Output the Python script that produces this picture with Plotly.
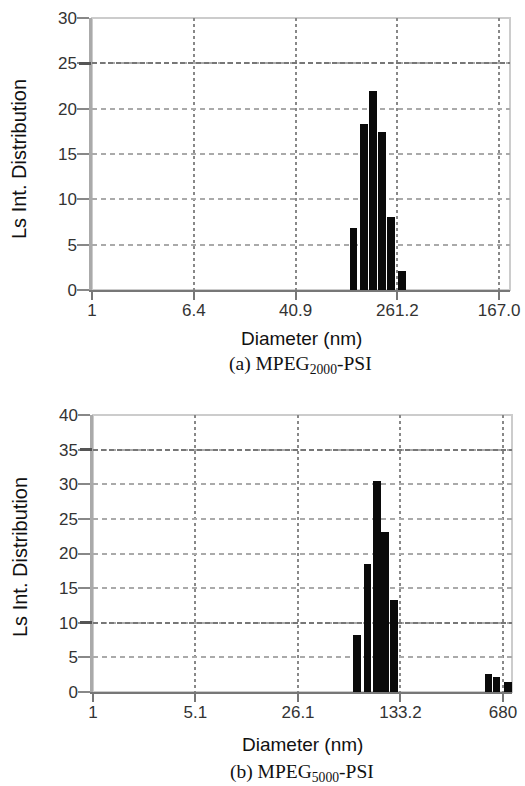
import numpy as np
import plotly.graph_objects as go

# ---- data ----
# (a) MPEG2000-PSI
a_diam = [118, 142, 169, 198, 233, 285]          # nm
a_val = [6.8, 18.3, 22.0, 17.4, 8.1, 2.1]
a_tickvals = [1, 6.4, 40.9, 261.2, 1670]
a_ticktext = ["1", "6.4", "40.9", "261.2", "167.0"]
a_yticks = [0, 5, 10, 15, 20, 25, 30]
a_dark_grid = [25]

# (b) MPEG5000-PSI
b_diam = [66.8, 78.9, 91.8, 104.3, 120.3, 541, 615, 738]
b_val = [8.3, 18.5, 30.5, 23.1, 13.3, 2.67, 2.1, 1.45]
b_tickvals = [1, 5.1, 26.1, 133.2, 680]
b_ticktext = ["1", "5.1", "26.1", "133.2", "680"]
b_yticks = [0, 5, 10, 15, 20, 25, 30, 35, 40]
b_dark_grid = [10, 35]

W, H = 525, 786
SANS = "Liberation Sans, Arial, sans-serif"
SERIF = "Liberation Serif, Times New Roman, serif"

fig = go.Figure()

fig.add_trace(go.Bar(x=a_diam, y=a_val, width=[d * 0.14 for d in a_diam],
                     marker=dict(color="#0a0a0a", line=dict(width=0)),
                     xaxis="x", yaxis="y", showlegend=False, hoverinfo="skip"))
fig.add_trace(go.Bar(x=b_diam, y=b_val, width=[d * 0.115 for d in b_diam],
                     marker=dict(color="#0a0a0a", line=dict(width=0)),
                     xaxis="x2", yaxis="y2", showlegend=False, hoverinfo="skip"))
# empty traces so that the overlaid "dark grid" axes get drawn
fig.add_trace(go.Scatter(x=[], y=[], xaxis="x", yaxis="y3", showlegend=False))
fig.add_trace(go.Scatter(x=[], y=[], xaxis="x2", yaxis="y4", showlegend=False))

def xax(domain, rng, tv, tt, anchor):
    return dict(type="log", domain=domain, range=rng, anchor=anchor,
                tickvals=tv, ticktext=tt, ticks="outside", ticklen=8, tickwidth=2,
                tickcolor="#777", showline=True, linecolor="#777", linewidth=2,
                showgrid=True, gridcolor="#888", griddash="dot", gridwidth=1.5,
                tickfont=dict(family=SANS, size=17, color="#333"),
                ticklabelstandoff=-4,
                zeroline=False, automargin=False, fixedrange=True)

def yax(domain, rng, tv, anchor):
    return dict(domain=domain, range=rng, anchor=anchor, tickvals=tv,
                ticks="outside", ticklen=12, tickwidth=2, tickcolor="#888",
                showline=True, linecolor="#aaa", linewidth=2.5,
                showgrid=True, gridcolor="#aaa", griddash="5px,4px", gridwidth=1.5,
                tickfont=dict(family=SANS, size=17, color="#333"),
                ticklabelstandoff=-3,
                zeroline=False, automargin=False, fixedrange=True)

def ydark(domain, rng, tv, over, anchor):
    return dict(domain=domain, range=rng, anchor=anchor, overlaying=over,
                tickvals=tv, ticks="outside", ticklen=12, tickwidth=2.5, tickcolor="#555",
                showticklabels=False, showline=False,
                showgrid=True, gridcolor="#777", griddash="5px,3px", gridwidth=2,
                zeroline=False, automargin=False, fixedrange=True)

top_x = [92 / W, 510 / W]
top_y = [(H - 290) / H, (H - 18) / H]
bot_x = [93 / W, 512 / W]
bot_y = [(H - 692) / H, (H - 415) / H]

fig.update_layout(
    width=W, height=H, margin=dict(l=0, r=0, t=0, b=0),
    paper_bgcolor="white", plot_bgcolor="white", bargap=0,
    xaxis=xax(top_x, [0, 3.309], a_tickvals, a_ticktext, "y"),
    yaxis=yax(top_y, [0, 30], a_yticks, "x"),
    xaxis2=xax(bot_x, [0, 2.895], b_tickvals, b_ticktext, "y2"),
    yaxis2=yax(bot_y, [0, 40], b_yticks, "x2"),
    yaxis3=ydark(top_y, [0, 30], a_dark_grid, "y", "x"),
    yaxis4=ydark(bot_y, [0, 40], b_dark_grid, "y2", "x2"),
)

# light frame on top/right
for xr, yr in (("x", "y"), ("x2", "y2")):
    fig.add_shape(type="rect", xref=f"{xr} domain", yref=f"{yr} domain",
                  x0=0, x1=1, y0=0, y1=1, line=dict(color="#ccc", width=2),
                  layer="below")

def ann(text, x, y, size, family, angle=0):
    fig.add_annotation(text=text, x=x / W, y=(H - y) / H, xref="paper", yref="paper",
                       showarrow=False, textangle=angle, xanchor="center", yanchor="middle",
                       font=dict(family=family, size=size, color="#111"))

ann("Ls Int. Distribution", 19, 159, 20, SANS, -90)
ann("Diameter (nm)", 301, 338, 19, SANS)
ann("(a) MPEG<sub>2000</sub>-PSI", 300, 365, 19.5, SERIF)
ann("Ls Int. Distribution", 20, 557, 20, SANS, -90)
ann("Diameter (nm)", 302, 744, 19, SANS)
ann("(b) MPEG<sub>5000</sub>-PSI", 302, 773, 19.5, SERIF)

fig.write_html("out.html", config={"displayModeBar": False},
               post_script="document.body.style.margin='0';document.body.style.padding='0';")
